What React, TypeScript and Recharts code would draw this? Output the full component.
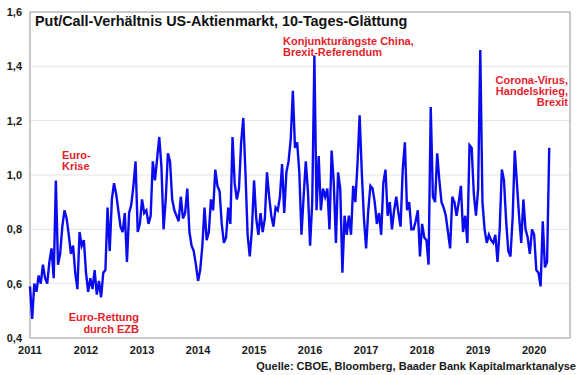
import { LineChart, Line, XAxis, YAxis, CartesianGrid, ReferenceArea } from 'recharts';

// put/call ratio, 10-day smoothed at ~26 points per year
const y2011 = [0.59, 0.47, 0.6, 0.57, 0.63, 0.6, 0.67, 0.62, 0.6, 0.68, 0.73, 0.62, 0.98, 0.67, 0.71, 0.81, 0.87, 0.84, 0.78, 0.71, 0.74, 0.64, 0.58, 0.79, 0.74, 0.76];
const y2012 = [0.64, 0.57, 0.62, 0.58, 0.65, 0.56, 0.61, 0.55, 0.64, 0.65, 0.88, 0.72, 0.91, 0.97, 0.93, 0.87, 0.81, 0.79, 0.86, 0.68, 0.86, 0.89, 0.96, 1.05, 0.79, 0.82];
const y2013 = [0.91, 0.86, 0.87, 0.82, 0.85, 1.05, 0.98, 1.06, 1.14, 1.03, 0.8, 0.91, 1.08, 1.05, 0.91, 0.87, 0.85, 0.83, 0.92, 0.84, 0.86, 0.95, 0.79, 0.74, 0.72, 0.67];
const y2014 = [0.61, 0.65, 0.74, 0.88, 0.76, 0.79, 0.91, 0.87, 1.02, 0.96, 0.94, 0.82, 0.75, 0.77, 0.88, 0.82, 1.14, 0.97, 0.91, 0.95, 1.12, 1.21, 1.01, 0.78, 0.7, 0.8];
const y2015 = [0.98, 0.84, 0.78, 0.86, 0.79, 0.84, 1.01, 0.92, 0.85, 0.81, 0.88, 0.87, 0.92, 1.04, 0.86, 1.01, 1.05, 1.13, 1.31, 1.1, 1.12, 1.01, 0.78, 0.92, 1.05, 0.94];
const y2016 = [0.74, 0.9, 1.44, 0.87, 1.07, 0.87, 0.95, 0.92, 0.95, 0.8, 1.09, 0.97, 0.75, 1.01, 0.95, 0.64, 0.85, 0.78, 0.85, 0.78, 0.96, 0.9, 1.04, 1.22, 1.01, 0.84];
const y2017 = [0.73, 0.87, 0.96, 0.95, 0.9, 0.82, 0.86, 0.78, 0.97, 1.02, 0.85, 0.9, 0.8, 0.87, 0.92, 0.86, 0.81, 1.02, 1.12, 0.87, 0.9, 0.8, 0.8, 0.83, 0.87, 0.7];
const y2018 = [0.82, 0.77, 0.76, 0.67, 1.25, 0.92, 0.9, 1.08, 0.98, 0.9, 0.88, 0.85, 0.79, 0.73, 0.92, 0.9, 0.85, 0.9, 0.96, 0.79, 0.85, 0.75, 1.11, 1.1, 0.93, 0.85];
const y2019 = [0.95, 1.46, 0.9, 0.8, 0.75, 0.78, 0.76, 0.75, 0.78, 0.68, 0.8, 1.02, 0.98, 0.83, 0.72, 0.7, 0.84, 1.09, 0.97, 0.85, 0.75, 0.91, 0.8, 0.77, 0.71, 0.8];
const y2020 = [0.78, 0.65, 0.64, 0.59, 0.83, 0.66, 0.68, 1.1];

const yearTicks = [2011, 2012, 2013, 2014, 2015, 2016, 2017, 2018, 2019, 2020];
const valueTicks = [0.4, 0.6, 0.8, 1.0, 1.2, 1.4, 1.6];
const byYear = [y2011, y2012, y2013, y2014, y2015, y2016, y2017, y2018, y2019, y2020];

const data = byYear.flatMap((vals, k) =>
  vals.map((v, i) => ({ t: yearTicks[k] + i / 26, pc: v }))
);

const font = 'Arial, "Liberation Sans", sans-serif';
const red = '#e3232b';

const note = (style: React.CSSProperties) => ({
  position: 'absolute' as const,
  color: red,
  fontFamily: font,
  fontWeight: 700,
  fontSize: 11,
  lineHeight: '11px',
  whiteSpace: 'nowrap' as const,
  ...style,
});

export default function App() {
  return (
    <div style={{ position: 'relative', width: 580, height: 375, background: '#fff' }}>
      <style>{'body{margin:0}'}</style>
      <LineChart width={580} height={375} data={data} margin={{ top: 12, right: 10, bottom: 0, left: 0 }}>
        <CartesianGrid vertical={false} stroke="#e4e4e4" />
        <XAxis
          dataKey="t"
          type="number"
          domain={[2011, 2020.64]}
          ticks={yearTicks}
          tickFormatter={(v) => String(v)}
          axisLine={false}
          tickLine={false}
          height={37}
          tick={{ fontSize: 11, fontWeight: 700, fill: '#1a1a1a', fontFamily: font }}
        />
        <YAxis
          type="number"
          domain={[0.4, 1.6]}
          ticks={valueTicks}
          tickFormatter={(v) => v.toFixed(1).replace('.', ',')}
          axisLine={false}
          tickLine={false}
          width={30}
          tick={{ fontSize: 11, fontWeight: 700, fill: '#1a1a1a', fontFamily: font }}
        />
        <ReferenceArea x1={2011} x2={2020.64} y1={0.4} y2={1.6} fill="none" stroke="#a3a3a3" strokeWidth={1.2} />
        <Line
          type="linear"
          dataKey="pc"
          stroke="#0b0bf0"
          strokeWidth={2.4}
          dot={false}
          isAnimationActive={false}
        />
      </LineChart>

      <div style={{ position: 'absolute', left: 35, top: 13, fontFamily: font, fontWeight: 700, fontSize: 14.4, color: '#111', whiteSpace: 'nowrap' }}>
        Put/Call-Verhältnis US-Aktienmarkt, 10-Tages-Glättung
      </div>

      <div style={note({ left: 62, top: 150 })}>
        Euro-<br />Krise
      </div>
      <div style={note({ right: 580 - 139, top: 311, textAlign: 'right', lineHeight: '12px' })}>
        Euro-Rettung<br />durch EZB
      </div>
      <div style={note({ left: 283, top: 36 })}>
        Konjunkturängste China,<br />Brexit-Referendum
      </div>
      <div style={note({ right: 12, top: 75, textAlign: 'right' })}>
        Corona-Virus,<br />Handelskrieg,<br />Brexit
      </div>

      <div style={{ position: 'absolute', right: 4, top: 360, fontFamily: font, fontWeight: 700, fontSize: 11, color: '#1a1a1a', whiteSpace: 'nowrap' }}>
        Quelle: CBOE, Bloomberg, Baader Bank Kapitalmarktanalyse
      </div>
    </div>
  );
}
